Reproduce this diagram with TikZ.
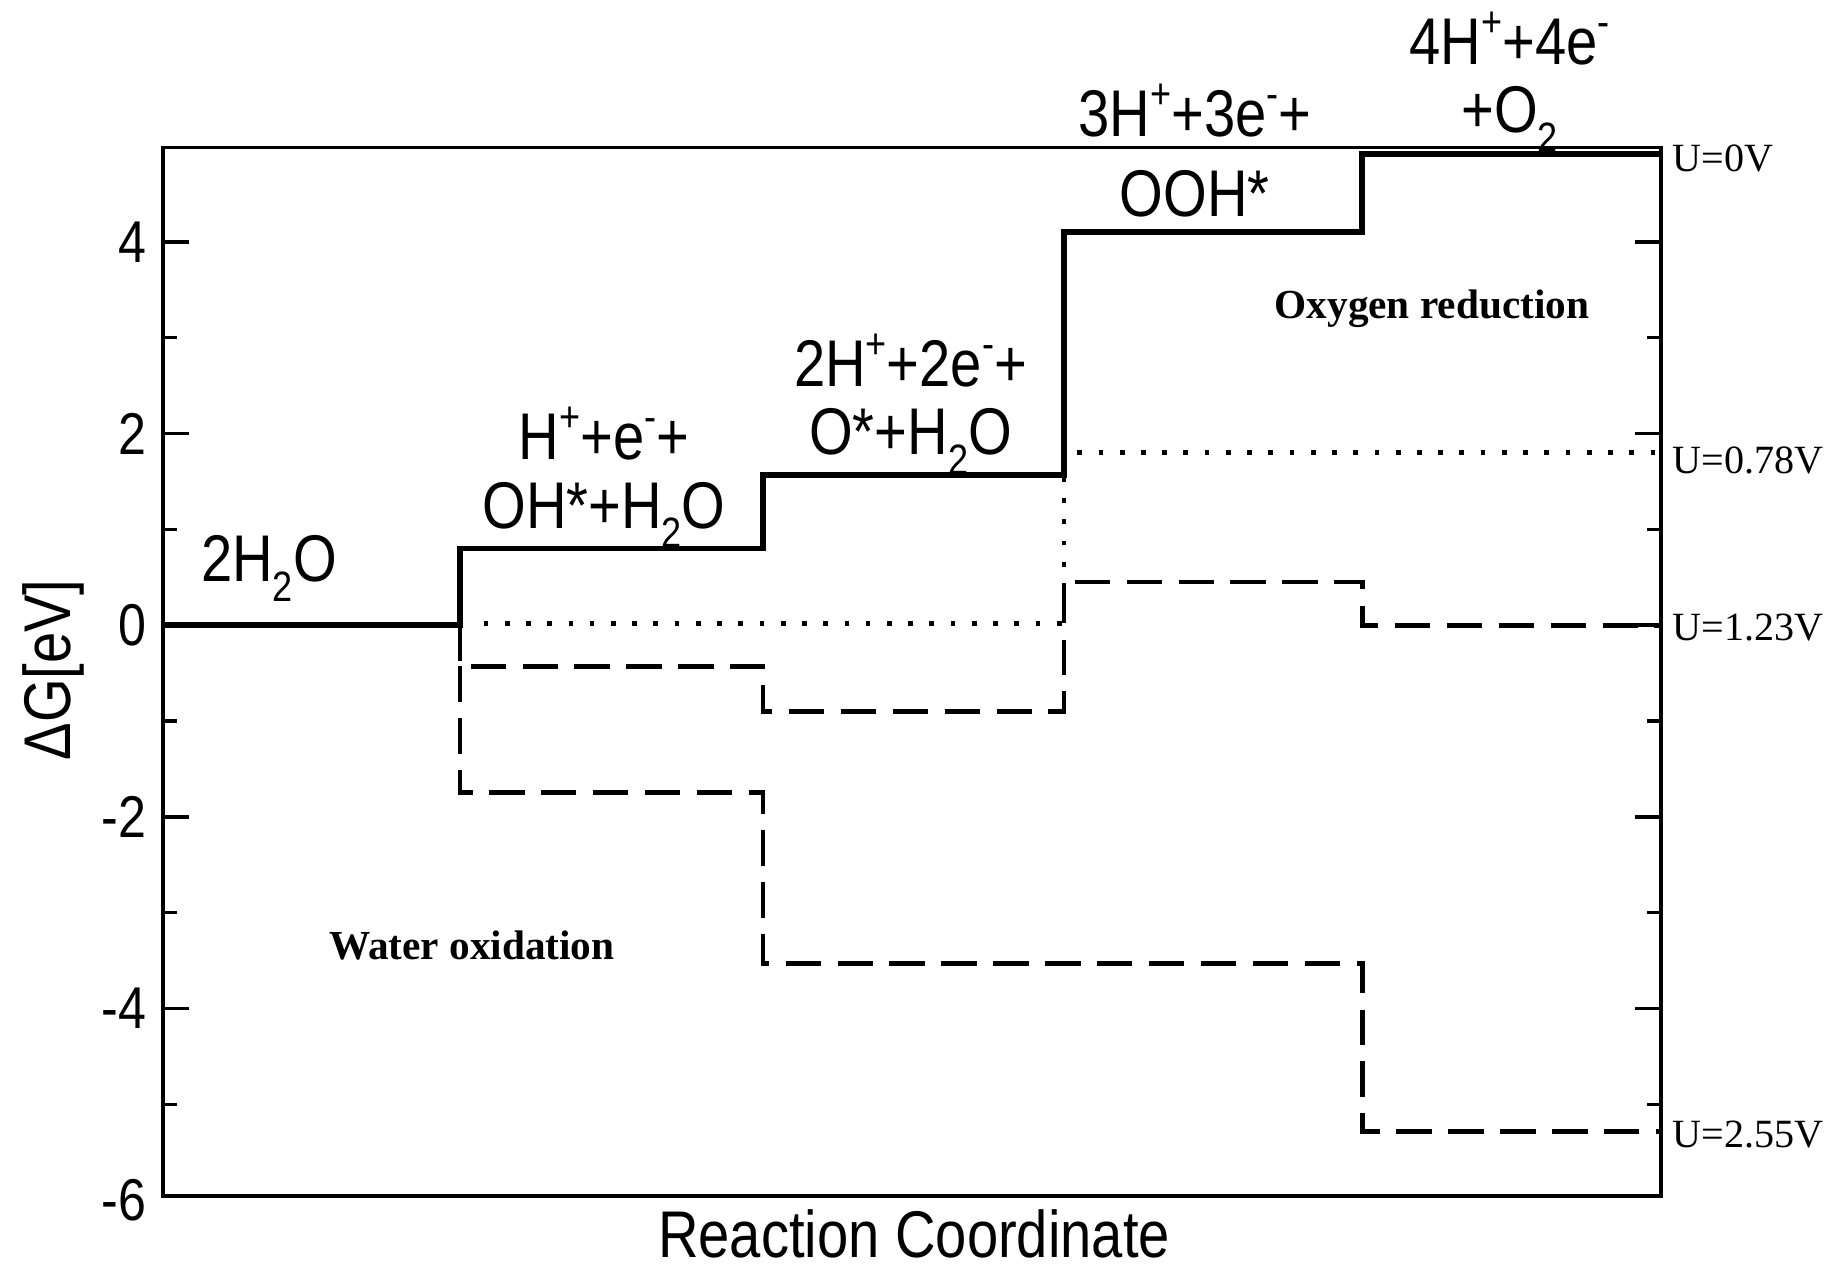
\documentclass[tikz,border=0pt]{standalone}
\usepackage{fontspec}
\setmainfont{Liberation Serif}
\newfontfamily\nar{Liberation Sans}[FakeStretch=0.85]
\newcommand{\mysup}[1]{\raisebox{0.42em}{\fontsize{36}{36}\selectfont #1}}
\newcommand{\mysub}[1]{\raisebox{-0.3em}{\fontsize{36}{36}\selectfont #1}}
\begin{document}
\begin{tikzpicture}[x=1pt,y=-1pt,
  solid line/.style={line width=5pt,line join=miter},
  dashed line/.style={line width=4pt,dash pattern=on 30pt off 14pt},
  dotted line/.style={line width=4pt,dash pattern=on 4pt off 14pt},
  lab/.style={font=\nar\fontsize{56}{58}\selectfont,align=center,inner sep=0pt},
  tick/.style={font=\nar\fontsize{50}{52}\selectfont,anchor=east,inner sep=0pt},
  ulab/.style={font=\fontsize{34}{36}\selectfont,anchor=west,inner sep=0pt},
  blab/.style={font=\bfseries\fontsize{35}{36}\selectfont,inner sep=0pt}]
\useasboundingbox (0,0) rectangle (1560,1080);
\def\Y#1{530-81.25*(#1)}
% frame
\draw[line width=3pt] (138,125) rectangle (1408,1014);
% ticks
\foreach \v in {-4,-2,...,4}{
  \draw[line width=3pt] (138,{\Y{\v}}) -- ++(22,0);
  \draw[line width=3pt] (1408,{\Y{\v}}) -- ++(-22,0);}
\foreach \v in {-6,-4,...,4}{
  \node[tick] at (124,{\Y{\v}}) {\v};}
\foreach \v in {-5,-3,...,3}{
  \draw[line width=3pt] (138,{\Y{\v}}) -- ++(12,0);
  \draw[line width=3pt] (1408,{\Y{\v}}) -- ++(-12,0);}
% U=0
\draw[solid line] (138,{\Y{0}}) -- (390,{\Y{0}}) -- (390,{\Y{0.8}}) -- (647,{\Y{0.8}})
  -- (647,{\Y{1.57}}) -- (902,{\Y{1.57}}) -- (902,{\Y{4.1}}) -- (1155,{\Y{4.1}})
  -- (1155,{\Y{4.92}}) -- (1408,{\Y{4.92}});
% U=0.78
\draw[dotted line] (410,{\Y{0.02}}) -- (902,{\Y{0.02}}) -- (902,{\Y{1.8}}) -- (1408,{\Y{1.8}});
% U=1.23
\draw[dashed line] (390,{\Y{0}}) -- (390,{\Y{-0.43}}) -- (647,{\Y{-0.43}}) -- (647,{\Y{-0.9}})
  -- (902,{\Y{-0.9}}) -- (902,{\Y{0.45}}) -- (1155,{\Y{0.45}}) -- (1155,{\Y{0}}) -- (1408,{\Y{0}});
% U=2.55
\draw[dashed line] (390,{\Y{-0.43}}) -- (390,{\Y{-1.75}}) -- (647,{\Y{-1.75}}) -- (647,{\Y{-3.53}})
  -- (1155,{\Y{-3.53}}) -- (1155,{\Y{-5.28}}) -- (1408,{\Y{-5.28}});
% labels
\node[lab] (a) at (228,482) {2H\mysub{2}O};
\node[lab] (b) at (512,405) {H\mysup{+}+e\mysup{-}+\\OH*+H\mysub{2}O};
\node[lab] (c) at (772,343) {2H\mysup{+}+2e\mysup{-}+\\O*+H\mysub{2}O};
\node[lab] (d) at (1013,128) {3H\mysup{+}+3e\mysup{-}+\\[10pt]OOH*};
\node[lab] (e) at (1280,70) {4H\mysup{+}+4e\mysup{-}\\+O\mysub{2}};
\node[ulab] (u0) at (1418,134) {U=0V};
\node[ulab] (u1) at (1418,390) {U=0.78V};
\node[ulab] (u2) at (1418,532) {U=1.23V};
\node[ulab] (u3) at (1418,962) {U=2.55V};
\node[blab] (o) at (1214,262) {Oxygen reduction};
\node[blab] (w) at (400,802) {Water oxidation};
\node[lab] (x) at (775,1046) {Reaction Coordinate};
\node[lab,rotate=90] (y) at (45,568) {ΔG[eV]};
\end{tikzpicture}
\end{document}
